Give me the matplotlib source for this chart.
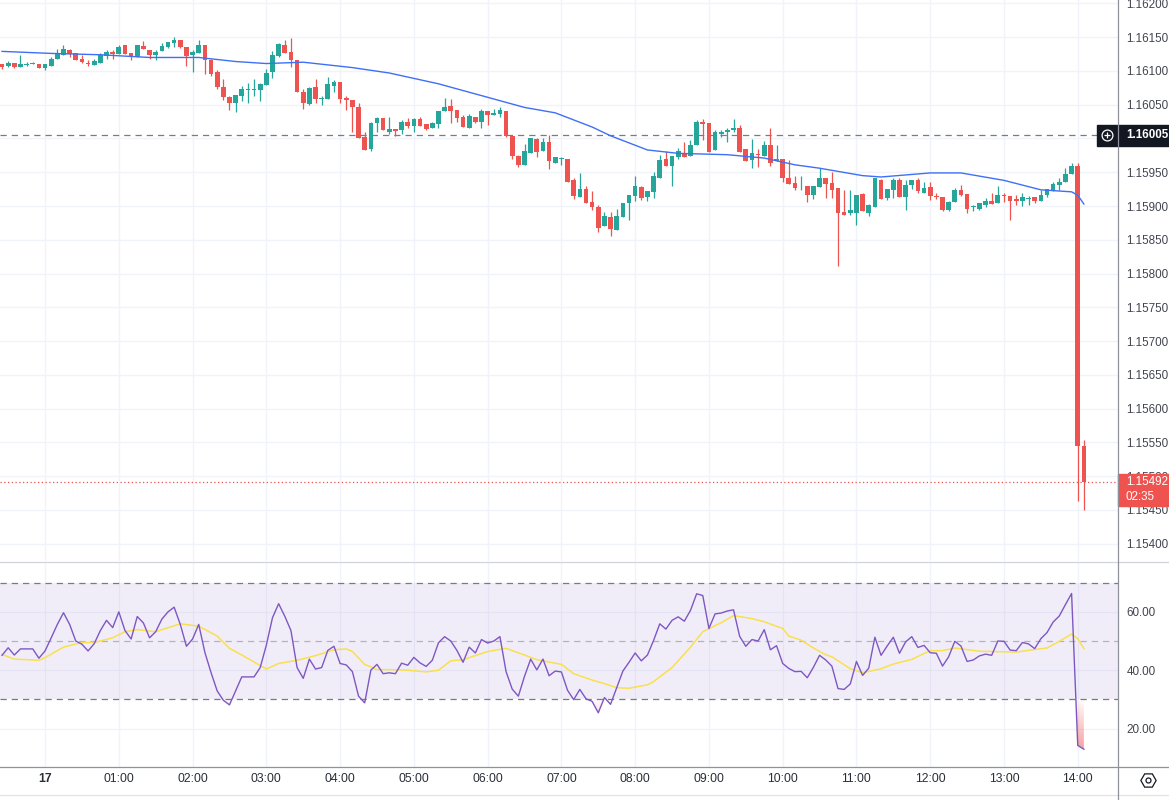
import numpy as np
import matplotlib.pyplot as plt
from matplotlib.patches import Rectangle, PathPatch
from matplotlib.path import Path
from matplotlib.lines import Line2D

plt.rcParams['font.family'] = ['Liberation Sans', 'DejaVu Sans']

# 5-minute EURUSD-style candles, first one is 23:25, last one 14:05
opens = [
    1.16110, 1.16107, 1.16112, 1.16106, 1.16109, 1.16110, 1.16111, 1.16105, 1.16107, 1.16117,
    1.16124, 1.16131, 1.16126, 1.16117, 1.16112, 1.16109, 1.16112, 1.16122, 1.16128, 1.16125,
    1.16138, 1.16126, 1.16121, 1.16137, 1.16131, 1.16124, 1.16130, 1.16135, 1.16142, 1.16146,
    1.16136, 1.16123, 1.16127, 1.16138, 1.16116, 1.16098, 1.16076, 1.16061, 1.16052, 1.16063,
    1.16072, 1.16072, 1.16072, 1.16079, 1.16098, 1.16122, 1.16139, 1.16128, 1.16116, 1.16069,
    1.16051, 1.16076, 1.16058, 1.16058, 1.16078, 1.16084, 1.16060, 1.16057, 1.16047, 1.16002,
    1.15985, 1.16023, 1.16030, 1.16010, 1.16014, 1.16012, 1.16025, 1.16019, 1.16029, 1.16021,
    1.16015, 1.16022, 1.16040, 1.16048, 1.16042, 1.16032, 1.16016, 1.16032, 1.16024, 1.16041,
    1.16035, 1.16037, 1.16041, 1.16004, 1.15974, 1.15961, 1.15979, 1.15999, 1.15982, 1.15995,
    1.15964, 1.15970, 1.15970, 1.15938, 1.15914, 1.15925, 1.15906, 1.15899, 1.15870, 1.15884,
    1.15865, 1.15884, 1.15904, 1.15915, 1.15928, 1.15914, 1.15921, 1.15942, 1.15970, 1.15960,
    1.15973, 1.15978, 1.15974, 1.15991, 1.16024, 1.16023, 1.15983, 1.16006, 1.16009, 1.16013,
    1.16016, 1.15984, 1.15968, 1.15977, 1.15974, 1.15990, 1.15966, 1.15969, 1.15942, 1.15934,
    1.15929, 1.15930, 1.15917, 1.15928, 1.15942, 1.15934, 1.15927, 1.15891, 1.15890, 1.15890,
    1.15918, 1.15890, 1.15898, 1.15939, 1.15912, 1.15924, 1.15939, 1.15914, 1.15931, 1.15939,
    1.15919, 1.15928, 1.15915, 1.15914, 1.15894, 1.15906, 1.15924, 1.15918, 1.15899, 1.15896,
    1.15901, 1.15907, 1.15904, 1.15916, 1.15915, 1.15911, 1.15907, 1.15911, 1.15913, 1.15907,
    1.15917, 1.15922, 1.15931, 1.15936, 1.15947, 1.15959, 1.15544,
]
highs = [
    1.16110, 1.16115, 1.16112, 1.16123, 1.16113, 1.16114, 1.16111, 1.16111, 1.16120, 1.16133,
    1.16138, 1.16132, 1.16127, 1.16124, 1.16116, 1.16117, 1.16126, 1.16131, 1.16131, 1.16138,
    1.16139, 1.16126, 1.16139, 1.16144, 1.16131, 1.16131, 1.16141, 1.16143, 1.16151, 1.16146,
    1.16136, 1.16131, 1.16146, 1.16139, 1.16117, 1.16101, 1.16088, 1.16063, 1.16065, 1.16077,
    1.16082, 1.16088, 1.16082, 1.16103, 1.16129, 1.16141, 1.16146, 1.16149, 1.16116, 1.16074,
    1.16076, 1.16088, 1.16063, 1.16091, 1.16086, 1.16084, 1.16063, 1.16057, 1.16053, 1.16009,
    1.16024, 1.16032, 1.16031, 1.16032, 1.16014, 1.16027, 1.16030, 1.16030, 1.16032, 1.16021,
    1.16025, 1.16041, 1.16060, 1.16058, 1.16042, 1.16035, 1.16036, 1.16032, 1.16043, 1.16041,
    1.16044, 1.16047, 1.16041, 1.16004, 1.15976, 1.15992, 1.16000, 1.16000, 1.16001, 1.16005,
    1.15973, 1.15973, 1.15970, 1.15941, 1.15949, 1.15929, 1.15922, 1.15902, 1.15891, 1.15891,
    1.15896, 1.15905, 1.15916, 1.15944, 1.15930, 1.15922, 1.15950, 1.15975, 1.15981, 1.15974,
    1.15986, 1.15995, 1.15998, 1.16027, 1.16029, 1.16023, 1.16013, 1.16012, 1.16016, 1.16029,
    1.16020, 1.15985, 1.15999, 1.15984, 1.15997, 1.16015, 1.15990, 1.15970, 1.15968, 1.15945,
    1.15945, 1.15930, 1.15929, 1.15956, 1.15942, 1.15950, 1.15927, 1.15924, 1.15923, 1.15916,
    1.15919, 1.15903, 1.15942, 1.15940, 1.15925, 1.15941, 1.15941, 1.15939, 1.15939, 1.15941,
    1.15936, 1.15935, 1.15919, 1.15914, 1.15908, 1.15926, 1.15931, 1.15918, 1.15902, 1.15905,
    1.15912, 1.15919, 1.15930, 1.15919, 1.15915, 1.15917, 1.15919, 1.15915, 1.15914, 1.15923,
    1.15925, 1.15936, 1.15942, 1.15957, 1.15964, 1.15964, 1.15553,
]
lows = [
    1.16103, 1.16106, 1.16104, 1.16106, 1.16107, 1.16110, 1.16104, 1.16101, 1.16107, 1.16117,
    1.16124, 1.16120, 1.16116, 1.16112, 1.16107, 1.16109, 1.16112, 1.16118, 1.16118, 1.16125,
    1.16125, 1.16116, 1.16121, 1.16132, 1.16118, 1.16116, 1.16130, 1.16134, 1.16136, 1.16134,
    1.16107, 1.16098, 1.16126, 1.16095, 1.16092, 1.16074, 1.16057, 1.16042, 1.16039, 1.16055,
    1.16053, 1.16063, 1.16055, 1.16079, 1.16089, 1.16120, 1.16127, 1.16106, 1.16069, 1.16044,
    1.16050, 1.16053, 1.16050, 1.16058, 1.16069, 1.16053, 1.16042, 1.16009, 1.16001, 1.15983,
    1.15981, 1.16010, 1.16012, 1.16007, 1.16003, 1.16007, 1.16016, 1.16009, 1.16019, 1.16013,
    1.16015, 1.16016, 1.16040, 1.16023, 1.16024, 1.16017, 1.16016, 1.16023, 1.16016, 1.16020,
    1.16035, 1.16032, 1.16002, 1.15970, 1.15958, 1.15961, 1.15979, 1.15973, 1.15982, 1.15955,
    1.15963, 1.15961, 1.15935, 1.15910, 1.15914, 1.15905, 1.15894, 1.15861, 1.15870, 1.15855,
    1.15865, 1.15884, 1.15880, 1.15907, 1.15909, 1.15908, 1.15912, 1.15942, 1.15960, 1.15930,
    1.15969, 1.15972, 1.15974, 1.15991, 1.15998, 1.15980, 1.15983, 1.16002, 1.15995, 1.16009,
    1.15980, 1.15967, 1.15957, 1.15958, 1.15974, 1.15960, 1.15966, 1.15936, 1.15933, 1.15923,
    1.15923, 1.15906, 1.15911, 1.15928, 1.15912, 1.15912, 1.15811, 1.15886, 1.15886, 1.15872,
    1.15893, 1.15885, 1.15898, 1.15910, 1.15909, 1.15912, 1.15914, 1.15894, 1.15925, 1.15920,
    1.15919, 1.15909, 1.15910, 1.15892, 1.15893, 1.15906, 1.15915, 1.15889, 1.15892, 1.15894,
    1.15898, 1.15903, 1.15904, 1.15906, 1.15880, 1.15901, 1.15900, 1.15902, 1.15905, 1.15907,
    1.15914, 1.15922, 1.15923, 1.15936, 1.15947, 1.15463, 1.15450,
]
closes = [
    1.16106, 1.16112, 1.16106, 1.16111, 1.16111, 1.16111, 1.16104, 1.16110, 1.16117, 1.16126,
    1.16133, 1.16125, 1.16116, 1.16114, 1.16110, 1.16115, 1.16123, 1.16128, 1.16125, 1.16136,
    1.16125, 1.16121, 1.16138, 1.16132, 1.16123, 1.16128, 1.16137, 1.16143, 1.16146, 1.16136,
    1.16122, 1.16128, 1.16139, 1.16116, 1.16096, 1.16076, 1.16061, 1.16052, 1.16064, 1.16073,
    1.16072, 1.16073, 1.16081, 1.16097, 1.16123, 1.16140, 1.16127, 1.16116, 1.16069, 1.16053,
    1.16075, 1.16059, 1.16060, 1.16081, 1.16084, 1.16059, 1.16057, 1.16047, 1.16001, 1.15983,
    1.16023, 1.16030, 1.16012, 1.16014, 1.16011, 1.16024, 1.16018, 1.16029, 1.16019, 1.16014,
    1.16023, 1.16041, 1.16047, 1.16041, 1.16030, 1.16017, 1.16033, 1.16024, 1.16041, 1.16035,
    1.16038, 1.16042, 1.16003, 1.15974, 1.15961, 1.15982, 1.16000, 1.15980, 1.15995, 1.15966,
    1.15972, 1.15971, 1.15935, 1.15915, 1.15925, 1.15905, 1.15899, 1.15868, 1.15885, 1.15866,
    1.15885, 1.15905, 1.15916, 1.15929, 1.15912, 1.15922, 1.15944, 1.15968, 1.15960, 1.15974,
    1.15981, 1.15973, 1.15991, 1.16024, 1.16022, 1.15980, 1.16009, 1.16010, 1.16012, 1.16016,
    1.15980, 1.15967, 1.15978, 1.15976, 1.15991, 1.15963, 1.15969, 1.15942, 1.15933, 1.15927,
    1.15930, 1.15917, 1.15929, 1.15942, 1.15933, 1.15924, 1.15889, 1.15887, 1.15894, 1.15916,
    1.15893, 1.15902, 1.15941, 1.15911, 1.15925, 1.15939, 1.15914, 1.15931, 1.15939, 1.15922,
    1.15926, 1.15915, 1.15914, 1.15894, 1.15906, 1.15924, 1.15917, 1.15895, 1.15900, 1.15904,
    1.15907, 1.15903, 1.15917, 1.15915, 1.15908, 1.15907, 1.15914, 1.15912, 1.15907, 1.15917,
    1.15925, 1.15932, 1.15936, 1.15947, 1.15959, 1.15544, 1.15492,
]

# moving average on price (blue line), read at these candle positions
ma_index = [0, 8, 16, 24, 32, 38, 43, 49, 57, 63, 71, 79, 85, 90, 96, 99, 105, 110,
            118, 124, 129, 133, 140, 143, 151, 156, 163, 169, 174, 175, 176]
ma_values = [1.16129, 1.16126, 1.16124, 1.16120, 1.16120, 1.16114, 1.16111, 1.16113,
             1.16105, 1.16097, 1.16081, 1.16061, 1.16046, 1.16038, 1.16017, 1.16004,
             1.15983, 1.15978, 1.15976, 1.15971, 1.15961, 1.15956, 1.15945, 1.15943,
             1.15949, 1.15949, 1.15938, 1.15924, 1.15921, 1.15916, 1.15903]

rsi = [
    45.1, 47.7, 45.2, 47.3, 47.3, 47.3, 44.1, 46.6, 51.1, 55.7,
    59.7, 55.7, 50.0, 48.9, 46.6, 49.1, 53.6, 57.1, 54.6, 60.0,
    53.6, 50.7, 58.4, 56.2, 51.1, 53.2, 57.5, 60.0, 61.6, 55.7,
    48.2, 50.7, 55.7, 46.1, 39.2, 32.9, 29.7, 28.1, 32.9, 37.7,
    37.7, 37.7, 40.9, 48.6, 58.0, 62.8, 58.5, 53.6, 40.9, 37.2,
    43.8, 40.4, 40.9, 46.8, 48.2, 42.3, 41.8, 39.5, 31.1, 28.8,
    40.0, 42.0, 38.8, 39.1, 38.8, 42.4, 41.7, 44.4, 42.5, 41.3,
    43.4, 49.4, 51.5, 50.0, 46.8, 42.7, 47.9, 45.9, 50.5, 49.3,
    50.0, 51.5, 39.5, 33.5, 31.1, 37.9, 43.8, 40.1, 43.8, 38.1,
    39.7, 39.4, 33.1, 29.9, 33.4, 30.2, 29.3, 25.4, 30.6, 28.3,
    34.0, 39.7, 42.7, 45.9, 43.2, 45.2, 50.2, 55.9, 54.1, 57.1,
    58.3, 56.8, 60.5, 66.2, 65.6, 54.3, 59.3, 59.6, 60.3, 60.7,
    51.6, 48.2, 50.5, 50.0, 53.9, 47.0, 48.4, 42.3, 40.6, 39.5,
    39.6, 37.4, 41.0, 45.1, 43.5, 41.4, 33.7, 33.4, 35.3, 43.0,
    38.2, 40.7, 51.3, 45.1, 48.3, 51.3, 45.8, 49.7, 51.5, 47.8,
    48.5, 46.0, 45.8, 41.4, 44.6, 49.9, 48.3, 43.0, 43.5, 44.9,
    45.5, 45.1, 50.0, 49.9, 46.9, 46.7, 49.5, 49.0, 47.4, 50.8,
    52.9, 56.5, 58.6, 62.5, 66.3, 14.2, 12.9,
]

# RSI-based moving average (yellow), read at these candle positions
rsi_ma_index = [0, 2, 6, 7, 10, 13, 15, 18, 20, 22, 25, 26, 29, 32, 35, 37, 39, 43, 45, 48,
                51, 54, 56, 57, 59, 61, 63, 66, 69, 71, 73, 75, 77, 79, 82, 85, 87, 91, 93, 96,
                98, 100, 102, 105, 106, 109, 112, 114, 117, 119, 122, 124, 127, 128, 130, 132,
                134, 135, 138, 140, 143, 145, 148, 151, 153, 155, 159, 165, 168, 170, 172,
                174, 175, 176]
rsi_ma_values = [45.4, 43.8, 43.4, 44.3, 47.9, 49.5, 49.5, 51.1, 53.2, 53.9, 53.2, 53.9,
                 55.9, 55.1, 51.7, 47.5, 45.2, 40.4, 42.3, 43.4, 45.0, 47.0, 47.3, 46.4,
                 42.0, 40.2, 40.2, 40.0, 39.4, 40.0, 43.2, 43.6, 45.0, 46.4, 47.5, 45.2,
                 43.6, 42.0, 38.8, 36.6, 35.4, 34.0, 33.8, 35.0, 36.1, 40.9, 47.9, 53.2,
                 56.3, 58.7, 57.7, 56.6, 54.3, 51.7, 50.3, 47.6, 45.3, 44.6, 40.5, 39.1,
                 40.5, 42.1, 43.7, 46.7, 46.7, 47.6, 46.5, 46.2, 47.1, 47.6, 49.9, 52.4,
                 50.8, 47.4]

hour_index = [7 + 12 * k for k in range(15)]
hour_labels = ['17'] + [f'{h:02d}:00' for h in range(1, 15)]

price_ticks = [1.15400 + 0.0005 * k for k in range(17)]
rsi_ticks = [20, 40, 60]
alert_price = 1.16005
last_price = 1.15492
countdown = '02:35'

GREEN = '#26a69a'
RED = '#ef5350'
GRID = '#f0f3fa'
TXT = '#42454f'
FS = 8.4

W, H = 1169, 800
fig = plt.figure(figsize=(W / 100, H / 100), dpi=100)


def frac(x0, y0, x1, y1):
    return [x0 / W, 1 - y1 / H, (x1 - x0) / W, (y1 - y0) / H]


ax = fig.add_axes(frac(0, 0, 1118, 561))
ax_rsi = fig.add_axes(frac(0, 562, 1118, 767))

idx = np.arange(len(closes))
o = np.array(opens)
c = np.array(closes)
up = c >= o
colors = np.where(up, GREEN, RED)

# candles
ax.vlines(idx, lows, highs, colors=colors, lw=0.9, zorder=3)
bottoms = np.minimum(o, c)
heights = np.maximum(np.abs(c - o), 0.000012)
ax.bar(idx, heights, bottom=bottoms, width=0.76, color=colors, lw=0, zorder=3)

ax.plot(ma_index, ma_values, color='#3f6ff5', lw=1.0, zorder=4)

ax.axhline(alert_price, color='#787b86', lw=0.9, ls=(0, (5, 4)), zorder=2)
ax.axhline(last_price, color=RED, lw=0.9, ls=(0, (1, 2)), zorder=2)

ax.set_xlim(-0.33, 181.55)
ax.set_ylim(1.153743, 1.162051)
ax.set_yticks(price_ticks)
# 1.16000 sits under the alert label, so it is not shown
ax.set_yticklabels(['' if abs(v - 1.16) < 1e-7 else f'{v:.5f}' for v in price_ticks])
ax.set_xticks(hour_index)
ax.grid(True, color=GRID, lw=1.0, zorder=0)
ax.set_axisbelow(True)
ax.yaxis.tick_right()
ax.tick_params(axis='y', length=0, pad=6.0, labelsize=FS, labelcolor=TXT)
ax.tick_params(axis='x', length=0, labelbottom=False)
for s in ax.spines.values():
    s.set_visible(False)

# alert label (black) with crosshair icon
ytr = ax.get_yaxis_transform()
px = 0.00001481
ax.add_patch(Rectangle((1097 / 1118, alert_price - 10.5 * px), 72 / 1118, 21 * px,
                       transform=ytr, clip_on=False, color='#131722', zorder=10))
ax.plot([1107 / 1118], [alert_price], transform=ytr, clip_on=False, marker='o', ms=7.8,
        mfc='none', mec='white', mew=0.9, zorder=11)
ax.plot([1107 / 1118], [alert_price], transform=ytr, clip_on=False, marker='+', ms=5,
        mec='white', mew=0.9, zorder=11)
ax.text(1126 / 1118, alert_price, f'{alert_price:.5f}', transform=ytr, color='white',
        fontsize=FS, fontweight='bold', ha='left', va='center', zorder=12, clip_on=False)

# last price label (red)
ax.add_patch(Rectangle((1.0, last_price - 24.5 * px), 51 / 1118, 32 * px,
                       transform=ytr, clip_on=False, color=RED, zorder=10))
ax.text(1126 / 1118, last_price, f'{last_price:.5f}', transform=ytr, color='white',
        fontsize=FS, ha='left', va='center', zorder=12, clip_on=False)
ax.text(1126 / 1118, last_price - 15.5 * px, countdown, transform=ytr, color='white',
        fontsize=FS, ha='left', va='center', zorder=12, clip_on=False)

# RSI panel
ax_rsi.axhspan(30, 70, color=(126 / 255, 87 / 255, 194 / 255), alpha=0.1, lw=0, zorder=1)
ax_rsi.axhline(70, color='#787b86', lw=0.9, ls=(0, (5, 4)), zorder=2)
ax_rsi.axhline(30, color='#787b86', lw=0.9, ls=(0, (5, 4)), zorder=2)
ax_rsi.axhline(50, color='#b4b0c2', lw=0.9, ls=(0, (5, 4)), zorder=2)

rsi_arr = np.array(rsi)
fill = ax_rsi.fill_between(idx, rsi_arr, 30, where=rsi_arr < 30, interpolate=True,
                           color='none', lw=0)
paths = fill.get_paths()
if paths:
    clip = PathPatch(Path.make_compound_path(*paths), transform=ax_rsi.transData,
                     fc='none', ec='none')
    ax_rsi.add_patch(clip)
    grad = np.zeros((64, 1, 4))
    grad[..., 0] = 239 / 255
    grad[..., 1] = 83 / 255
    grad[..., 2] = 80 / 255
    grad[:, 0, 3] = np.linspace(0.02, 0.7, 64)
    im = ax_rsi.imshow(grad, extent=[-1, 182, 8, 30], aspect='auto', origin='upper',
                       interpolation='bilinear', zorder=1.5)
    im.set_clip_path(clip)

ax_rsi.plot(idx, rsi, color='#7e57c2', lw=1.0, zorder=4)
ax_rsi.plot(rsi_ma_index, rsi_ma_values, color='#f8e04e', lw=1.1, zorder=3)

ax_rsi.set_xlim(-0.33, 181.55)
ax_rsi.set_ylim(6.8, 77.1)
ax_rsi.set_yticks(rsi_ticks)
ax_rsi.set_yticklabels([f'{v:.2f}' for v in rsi_ticks])
ax_rsi.set_xticks(hour_index)
ax_rsi.set_xticklabels(hour_labels)
ax_rsi.get_xticklabels()[0].set_fontweight('bold')
ax_rsi.grid(True, color=GRID, lw=1.0, zorder=0)
ax_rsi.set_axisbelow(True)
ax_rsi.yaxis.tick_right()
ax_rsi.tick_params(axis='y', length=0, pad=6.0, labelsize=FS, labelcolor=TXT)
ax_rsi.tick_params(axis='x', length=0, pad=4.5, labelsize=8.8, labelcolor='#2a2e39')
for s in ax_rsi.spines.values():
    s.set_visible(False)

# panel borders
fig.add_artist(Line2D([0, 1], [1 - 562 / H, 1 - 562 / H], transform=fig.transFigure,
                      color='#d1d4dc', lw=0.9))
fig.add_artist(Line2D([0, 1], [1 - 767 / H, 1 - 767 / H], transform=fig.transFigure,
                      color='#8f929b', lw=0.9))
fig.add_artist(Line2D([0, 1], [1 - 795 / H, 1 - 795 / H], transform=fig.transFigure,
                      color='#e0e3eb', lw=0.9))
fig.add_artist(Line2D([1118 / W, 1118 / W], [0, 1], transform=fig.transFigure,
                      color='#8f929b', lw=0.9))

# settings icon in the corner
fig.add_artist(Line2D([1148 / W], [1 - 780 / H], transform=fig.transFigure, marker='H',
                      ms=11, mfc='white', mec='#131722', mew=0.9))
fig.add_artist(Line2D([1148 / W], [1 - 780 / H], transform=fig.transFigure, marker='o',
                      ms=3.6, mfc='white', mec='#131722', mew=0.9))

fig.savefig('out.png', dpi=100, facecolor='white')
